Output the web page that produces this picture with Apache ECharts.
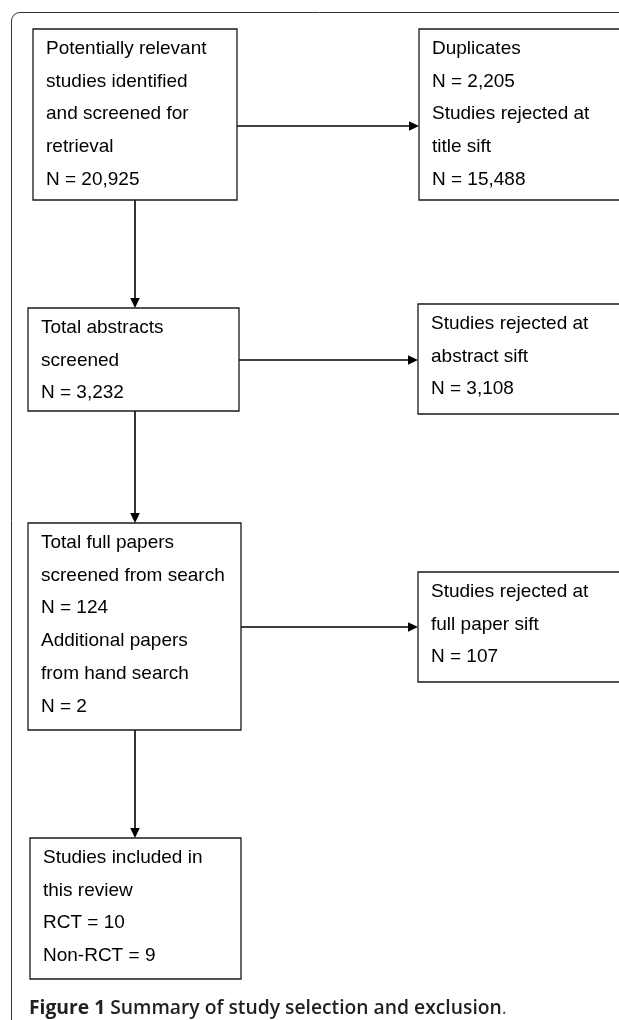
<!DOCTYPE html>
<html>
<head>
<meta charset="utf-8">
<script src="https://cdn.jsdelivr.net/npm/echarts@6/dist/echarts.min.js"></script>
<style>
html,body{margin:0;padding:0;background:#fff;}
#chart{width:619px;height:1020px;}
</style>
</head>
<body>
<div id="chart"></div>
<script>
// ---- Data ----
const stageTitles = [
  ['Potentially relevant', 'studies identified', 'and screened for', 'retrieval'],
  ['Duplicates'],
  ['Studies rejected at', 'title sift'],
  ['Total abstracts', 'screened'],
  ['Studies rejected at', 'abstract sift'],
  ['Total full papers', 'screened from search'],
  ['Additional papers', 'from hand search'],
  ['Studies rejected at', 'full paper sift'],
  ['Studies included in', 'this review']
];
const countLabels = ['N', 'N', 'N', 'N', 'N', 'N', 'N', 'N', 'RCT', 'Non-RCT'];
const countValues = [20925, 2205, 15488, 3232, 3108, 124, 2, 107, 10, 9];
const captionBold = 'Figure 1';
const captionText = 'Summary of study selection and exclusion';

function fmt(n) { return n.toLocaleString('en-US'); }
function cnt(i) { return countLabels[i] + ' = ' + fmt(countValues[i]); }

// box contents built from the data
const boxLines = [
  [...stageTitles[0], cnt(0)],
  [...stageTitles[1], cnt(1), ...stageTitles[2], cnt(2)],
  [...stageTitles[3], cnt(3)],
  [...stageTitles[4], cnt(4)],
  [...stageTitles[5], cnt(5), ...stageTitles[6], cnt(6)],
  [...stageTitles[7], cnt(7)],
  [...stageTitles[8], cnt(8), cnt(9)]
];

// ---- Layout (diagram space, px-like units) ----
const boxLayout = [
  [33, 29, 237, 200],
  [419, 29, 640, 200],
  [28, 308, 239, 411],
  [418, 304, 640, 414],
  [28, 523, 241, 730],
  [418, 572, 640, 682],
  [30, 838, 241, 979]
];
const arrowLayout = [
  [135, 200, 135, 308],
  [135, 411, 135, 523],
  [135, 730, 135, 838],
  [237, 126, 419, 126],
  [239, 360, 418, 360],
  [241, 627, 418, 627]
];

const chart = echarts.init(document.getElementById('chart'), null, {renderer: 'canvas'});

function renderBox(params, api) {
  const i = api.value(0);
  const b = boxLayout[i];
  const p0 = api.coord([b[0], b[1]]);
  const p1 = api.coord([b[2], b[3]]);
  const children = [{
    type: 'rect',
    shape: {x: p0[0], y: p0[1], width: p1[0] - p0[0], height: p1[1] - p0[1]},
    style: {fill: '#fff', stroke: '#1a1a1a', lineWidth: 1.3}
  }];
  boxLines[i].forEach(function (t, k) {
    children.push({
      type: 'text',
      style: {
        text: t,
        x: p0[0] + 13,
        y: p0[1] + 19.5 + k * 32.8,
        align: 'left',
        verticalAlign: 'middle',
        fontFamily: '"Liberation Sans", Arial, sans-serif',
        fontSize: 19,
        fill: '#000'
      }
    });
  });
  return {type: 'group', children: children};
}

function renderArrow(params, api) {
  const a = arrowLayout[api.value(0)];
  const s = api.coord([a[0], a[1]]);
  const e = api.coord([a[2], a[3]]);
  const dx = e[0] - s[0], dy = e[1] - s[1];
  const len = Math.sqrt(dx * dx + dy * dy);
  const ux = dx / len, uy = dy / len;
  const hl = 10, hw = 4.8;
  const bx = e[0] - ux * hl, by = e[1] - uy * hl;
  return {
    type: 'group',
    children: [
      {type: 'line', shape: {x1: s[0], y1: s[1], x2: bx, y2: by}, style: {stroke: '#000', lineWidth: 1.6}},
      {type: 'polygon', shape: {points: [[e[0], e[1]], [bx - uy * hw, by + ux * hw], [bx + uy * hw, by - ux * hw]]}, style: {fill: '#000'}}
    ]
  };
}

chart.setOption({
  animation: false,
  grid: {left: 0, right: 0, top: 0, bottom: 0},
  xAxis: {type: 'value', min: 0, max: 619, show: false},
  yAxis: {type: 'value', min: 0, max: 1020, inverse: true, show: false},
  title: {
    left: 29, top: 997, padding: 0,
    text: '{a|' + captionBold + '} {b|' + captionText + '}{c|.}',
    textStyle: {
      rich: {
        a: {fontFamily: '"Open Sans", sans-serif', fontWeight: 'bold', fontSize: 19.3, lineHeight: 24, color: '#231f20'},
        b: {fontFamily: '"Open Sans", sans-serif', fontWeight: 600, fontSize: 19.3, lineHeight: 24, color: '#231f20'},
        c: {fontFamily: '"Open Sans", sans-serif', fontWeight: 'normal', fontSize: 19.3, lineHeight: 24, color: '#555'}
      }
    }
  },
  graphic: [
    {type: 'line', shape: {x1: 11.5, y1: 21, x2: 11.5, y2: 1020}, style: {stroke: '#333', lineWidth: 1}},
    {type: 'line', shape: {x1: 20, y1: 12.5, x2: 619, y2: 12.5}, style: {stroke: '#333', lineWidth: 1}},
    {type: 'arc', shape: {cx: 20, cy: 21, r: 8.5, startAngle: Math.PI, endAngle: Math.PI * 1.5}, style: {stroke: '#333', lineWidth: 1, fill: 'none'}}
  ],
  series: [
    {type: 'custom', renderItem: renderArrow, data: arrowLayout.map((_, i) => [i]), clip: false, silent: true},
    {type: 'custom', renderItem: renderBox, data: boxLayout.map((_, i) => [i]), clip: false, silent: true}
  ]
});
</script>
</body>
</html>
